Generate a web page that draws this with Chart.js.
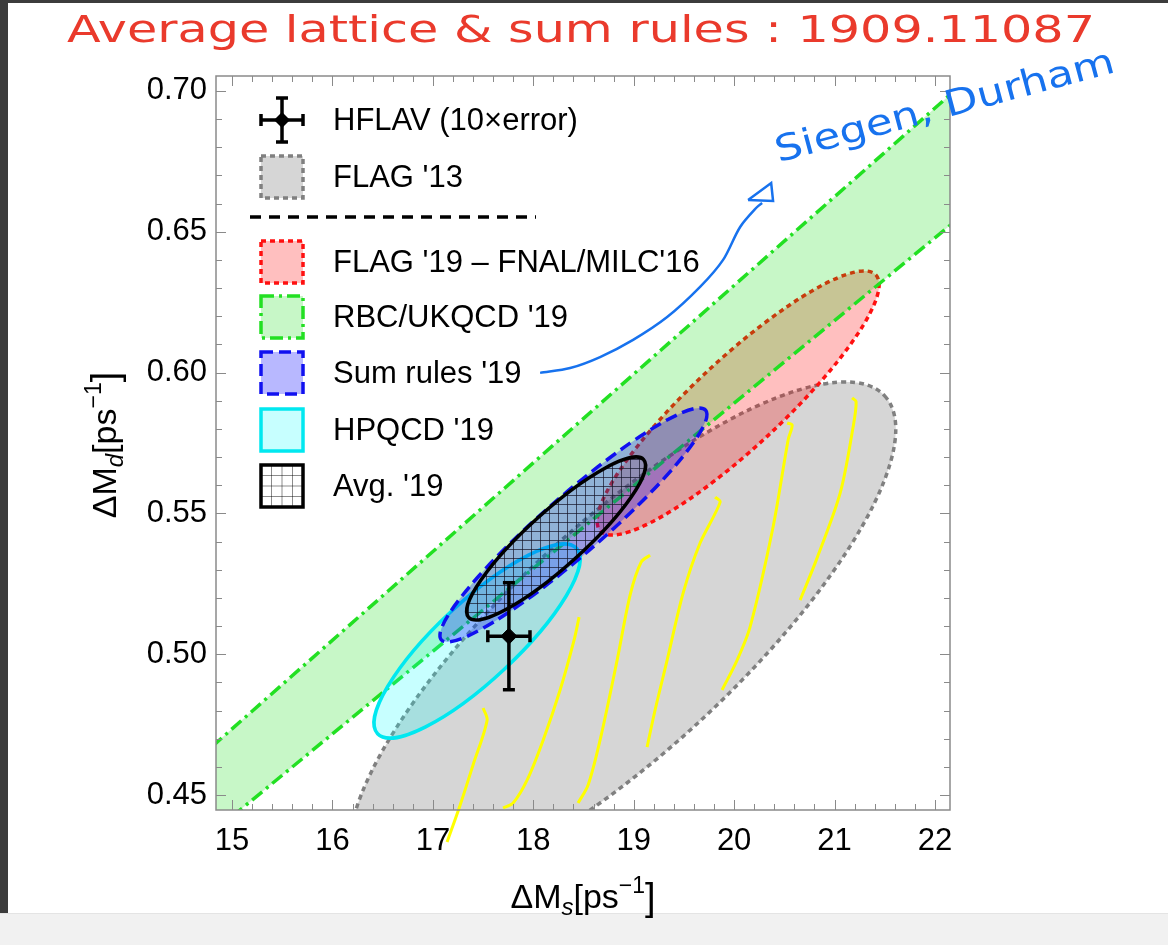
<!DOCTYPE html>
<html>
<head>
<meta charset="utf-8">
<script src="https://cdn.jsdelivr.net/npm/chart.js@4.4.1/dist/chart.umd.min.js"></script>
<style>
  html, body { margin: 0; padding: 0; background: #fff; }
  #wrap { position: relative; width: 1168px; height: 945px; overflow: hidden; }
  .edge-left { position: absolute; left: 0; top: 0; width: 8px; height: 913px; background: #3c3c3c; }
  .edge-top { position: absolute; left: 0; top: 0; width: 1168px; height: 3px; background: #3c3c3c; }
  .edge-bottom { position: absolute; left: 0; top: 913px; width: 1168px; height: 32px; background: #f1f1f1; border-top: 1px solid #e4e4e4; }
  canvas { position: absolute; left: 0; top: 0; }
</style>
</head>
<body>
<div id="wrap">
  <div class="edge-left"></div>
  <div class="edge-top"></div>
  <div class="edge-bottom"></div>
  <canvas id="chart" width="1168" height="945"></canvas>
</div>
<script>
// axes
const xTicks = [15, 16, 17, 18, 19, 20, 21, 22];
const yTicks = [0.45, 0.50, 0.55, 0.60, 0.65, 0.70];
const xMin = 14.84, xMax = 22.15;
const yMin = 0.4447, yMax = 0.7053;

// HFLAV (10x error)
const hflavMs = 17.757, hflavMd = 0.5064;
const hflavMsErr = 0.21, hflavMdErr = 0.019;

// ellipses: FLAG'13, FLAG'19, HPQCD'19, Sum rules'19, Avg'19
const ellipseMs = [18.89, 20.04, 17.44, 18.40, 18.227];
const ellipseMd = [0.5058, 0.5892, 0.5047, 0.5459, 0.5411];
const ellipseMsHalf = [2.72, 1.404, 1.026, 1.33, 0.891];
const ellipseMdHalf = [0.0909, 0.0469, 0.03445, 0.04155, 0.02894];
const ellipseRho = [0.815, 0.895, 0.846, 0.944, 0.895];

// RBC/UKQCD '19 band
const bandMs = [14.8, 22.2];
const bandLow = [0.4365, 0.6537];
const bandHigh = [0.4672, 0.7002];

// hand drawn yellow strokes
const yellowMs = [
  [17.500, 17.540, 17.400, 17.271, 17.141],
  [18.456, 18.406, 18.267, 18.098, 17.938, 17.799, 17.699],
  [19.163, 19.074, 18.964, 18.835, 18.665, 18.546, 18.446],
  [19.811, 19.861, 19.661, 19.492, 19.333, 19.213, 19.133],
  [20.528, 20.578, 20.538, 20.388, 20.159, 20.030, 19.880],
  [21.175, 21.215, 21.185, 21.056, 20.819, 20.657]
];
const yellowMd = [
  [0.4809, 0.4766, 0.4607, 0.4464, 0.4333],
  [0.5132, 0.5050, 0.4873, 0.4695, 0.4553, 0.4472, 0.4454],
  [0.5352, 0.5327, 0.5210, 0.4979, 0.4695, 0.4536, 0.4472],
  [0.5558, 0.5540, 0.5395, 0.5217, 0.4979, 0.4802, 0.4670],
  [0.5821, 0.5814, 0.5761, 0.5452, 0.5097, 0.4979, 0.4873],
  [0.5910, 0.5896, 0.5807, 0.5572, 0.5335, 0.5192]
];

// hand drawn blue arrow
const arrowMs = [18.068, 18.367, 18.665, 18.994, 19.333, 19.661, 19.890, 20.060, 20.229, 20.279];
const arrowMd = [0.5999, 0.6016, 0.6055, 0.6116, 0.6197, 0.6304, 0.6400, 0.6517, 0.6588, 0.6602];
const arrowHeadMs = [20.139, 20.369, 20.388, 20.139];
const arrowHeadMd = [0.6613, 0.6673, 0.6609, 0.6613];

const legendLabels = ["HFLAV (10\u00d7error)", "FLAG '13", "FLAG '19 \u2013 FNAL/MILC'16", "RBC/UKQCD '19", "Sum rules '19", "HPQCD '19", "Avg. '19"];
const headText = 'Average lattice & sum rules : 1909.11087';
const noteText = 'Siegen, Durham';

// styles
const FONT = '"Liberation Sans", Arial, sans-serif';
const ellipseFill = ['rgba(128,128,128,0.32)', 'rgba(255,0,0,0.25)', 'rgba(0,255,255,0.22)', 'rgba(0,0,255,0.28)', 'rgba(0,0,0,0)'];
const ellipseLine = ['#808080', '#ff1010', '#00e8f0', '#1010f0', '#000000'];
const ellipseDash = [[5, 4], [5, 4], [], [12, 6], []];
const greenLine = '#22e022';
const greenFill = 'rgba(0,220,0,0.22)';
const greenDash = [13, 5, 3, 5];

const pts = (ms, md) => ms.map((v, i) => ({x: v, y: md[i]}));

function ellipsePath(chart, ctx, i) {
  const X = v => chart.scales.x.getPixelForValue(v);
  const Y = v => chart.scales.y.getPixelForValue(v);
  const x0 = X(ellipseMs[i]), y0 = Y(ellipseMd[i]);
  const rx = Math.abs(X(ellipseMs[i] + ellipseMsHalf[i]) - x0);
  const ry = Math.abs(Y(ellipseMd[i] + ellipseMdHalf[i]) - y0);
  const sxx = rx * rx, syy = ry * ry, sxy = -ellipseRho[i] * rx * ry;
  const m = (sxx + syy) / 2, d = Math.sqrt(((sxx - syy) / 2) ** 2 + sxy * sxy);
  const a = Math.sqrt(m + d), b = Math.sqrt(Math.max(m - d, 0));
  const ang = 0.5 * Math.atan2(2 * sxy, sxx - syy);
  ctx.beginPath();
  ctx.ellipse(x0, y0, a, b, ang, 0, Math.PI * 2);
  return {x0, y0, a};
}

function drawEllipse(chart, i) {
  const ctx = chart.ctx;
  ctx.save();
  const e = ellipsePath(chart, ctx, i);
  ctx.fillStyle = ellipseFill[i];
  ctx.fill();
  if (i === 4) {
    // grid hatch for the average
    ctx.save();
    ctx.clip();
    ctx.strokeStyle = 'rgba(20,20,40,0.7)';
    ctx.lineWidth = 1;
    ctx.beginPath();
    for (let g = Math.floor((e.x0 - e.a) / 9) * 9; g < e.x0 + e.a; g += 9) {
      ctx.moveTo(g + 0.5, e.y0 - e.a); ctx.lineTo(g + 0.5, e.y0 + e.a);
    }
    for (let g = Math.floor((e.y0 - e.a) / 9) * 9; g < e.y0 + e.a; g += 9) {
      ctx.moveTo(e.x0 - e.a, g + 0.5); ctx.lineTo(e.x0 + e.a, g + 0.5);
    }
    ctx.stroke();
    ctx.restore();
    ellipsePath(chart, ctx, i);
  }
  ctx.setLineDash(ellipseDash[i]);
  ctx.strokeStyle = ellipseLine[i];
  ctx.lineWidth = 3.5;
  ctx.stroke();
  ctx.restore();
}

function clipArea(chart, fn) {
  const {left, top, width, height} = chart.chartArea;
  chart.ctx.save();
  chart.ctx.beginPath();
  chart.ctx.rect(left, top, width, height);
  chart.ctx.clip();
  fn();
  chart.ctx.restore();
}

function drawFrame(chart) {
  const ctx = chart.ctx;
  const {left, right, top, bottom} = chart.chartArea;
  const xs = chart.scales.x, ys = chart.scales.y;
  ctx.save();
  ctx.strokeStyle = '#8a8a8a';
  ctx.lineWidth = 1.5;
  ctx.strokeRect(left, top, right - left, bottom - top);
  ctx.lineWidth = 1;
  ctx.beginPath();
  for (let k = 70; k <= 115; k++) {
    const v = k / 5;
    if (v < xMin || v > xMax) continue;
    const p = Math.round(xs.getPixelForValue(v)) + 0.5;
    const len = k % 5 === 0 ? 10 : 6;
    ctx.moveTo(p, bottom); ctx.lineTo(p, bottom - len);
    ctx.moveTo(p, top); ctx.lineTo(p, top + len);
  }
  for (let k = 44; k <= 71; k++) {
    const v = k / 100;
    if (v < yMin || v > yMax) continue;
    const p = Math.round(ys.getPixelForValue(v)) + 0.5;
    const len = k % 5 === 0 ? 10 : 6;
    ctx.moveTo(left, p); ctx.lineTo(left + len, p);
    ctx.moveTo(right, p); ctx.lineTo(right - len, p);
  }
  ctx.stroke();
  ctx.restore();
}

function drawRich(ctx, parts, x, y, rot) {
  ctx.save();
  ctx.translate(x, y);
  ctx.rotate(rot);
  ctx.fillStyle = '#000';
  ctx.textBaseline = 'alphabetic';
  let w = 0;
  parts.forEach(p => { ctx.font = p[2] + ' ' + p[1] + 'px ' + FONT; w += ctx.measureText(p[0]).width; });
  let cx = -w / 2;
  parts.forEach(p => {
    ctx.font = p[2] + ' ' + p[1] + 'px ' + FONT;
    ctx.fillText(p[0], cx, p[3]);
    cx += ctx.measureText(p[0]).width;
  });
  ctx.restore();
}

function drawLegend(chart) {
  const ctx = chart.ctx;
  const {left, top} = chart.chartArea;
  const sx = left + 66, tx = left + 117;
  const rows = [44, 101, 186, 241, 297, 354, 410].map(r => top + r);
  ctx.save();
  // HFLAV symbol
  ctx.strokeStyle = '#000';
  ctx.fillStyle = '#000';
  ctx.lineWidth = 3.5;
  ctx.beginPath();
  ctx.moveTo(sx - 21, rows[0]); ctx.lineTo(sx + 21, rows[0]);
  ctx.moveTo(sx, rows[0] - 22); ctx.lineTo(sx, rows[0] + 22);
  ctx.moveTo(sx - 21, rows[0] - 6); ctx.lineTo(sx - 21, rows[0] + 6);
  ctx.moveTo(sx + 21, rows[0] - 6); ctx.lineTo(sx + 21, rows[0] + 6);
  ctx.moveTo(sx - 6, rows[0] - 22); ctx.lineTo(sx + 6, rows[0] - 22);
  ctx.moveTo(sx - 6, rows[0] + 22); ctx.lineTo(sx + 6, rows[0] + 22);
  ctx.stroke();
  ctx.beginPath();
  ctx.moveTo(sx, rows[0] - 8); ctx.lineTo(sx + 8, rows[0]); ctx.lineTo(sx, rows[0] + 8); ctx.lineTo(sx - 8, rows[0]);
  ctx.closePath();
  ctx.fill();

  // swatches
  const sw = [
    [1, ellipseFill[0], ellipseLine[0], ellipseDash[0]],
    [2, ellipseFill[1], ellipseLine[1], ellipseDash[1]],
    [3, greenFill, greenLine, greenDash],
    [4, ellipseFill[3], ellipseLine[3], ellipseDash[3]],
    [5, ellipseFill[2], ellipseLine[2], ellipseDash[2]],
    [6, 'rgba(0,0,0,0)', '#000', []]
  ];
  sw.forEach(s => {
    const cy = rows[s[0]];
    ctx.fillStyle = s[1];
    ctx.fillRect(sx - 21, cy - 21, 42, 42);
    if (s[0] === 6) {
      ctx.strokeStyle = 'rgba(0,0,0,0.45)';
      ctx.lineWidth = 1;
      ctx.setLineDash([]);
      ctx.beginPath();
      for (let k = 1; k < 4; k++) {
        ctx.moveTo(sx - 21 + k * 10.5, cy - 21); ctx.lineTo(sx - 21 + k * 10.5, cy + 21);
        ctx.moveTo(sx - 21, cy - 21 + k * 10.5); ctx.lineTo(sx + 21, cy - 21 + k * 10.5);
      }
      ctx.stroke();
    }
    ctx.strokeStyle = s[2];
    ctx.lineWidth = 3.5;
    ctx.setLineDash(s[3]);
    ctx.strokeRect(sx - 21, cy - 21, 42, 42);
  });

  // separator
  ctx.setLineDash([11, 8]);
  ctx.strokeStyle = '#000';
  ctx.lineWidth = 3.5;
  ctx.beginPath();
  ctx.moveTo(left + 34, top + 141); ctx.lineTo(left + 320, top + 141);
  ctx.stroke();
  ctx.setLineDash([]);

  ctx.fillStyle = '#000';
  ctx.font = '31px ' + FONT;
  ctx.textBaseline = 'middle';
  legendLabels.forEach((t, i) => ctx.fillText(t, tx, rows[i] + 1));
  ctx.restore();
}

function drawNotes(chart) {
  const ctx = chart.ctx;
  ctx.save();
  ctx.fillStyle = '#ea3a2c';
  ctx.font = '38px "DejaVu Sans", sans-serif';
  ctx.textBaseline = 'middle';
  let w = ctx.measureText(headText).width;
  ctx.translate(67, 32);
  ctx.scale(1028 / w, 1);
  ctx.fillText(headText, 0, 0);
  ctx.restore();

  ctx.save();
  ctx.fillStyle = '#1772ee';
  ctx.font = '36px "DejaVu Sans", sans-serif';
  ctx.textBaseline = 'middle';
  w = ctx.measureText(noteText).width;
  ctx.translate(945, 108);
  ctx.rotate(-15 * Math.PI / 180);
  ctx.scale(350 / w, 1);
  ctx.fillText(noteText, -w / 2, 0);
  ctx.restore();
}

const extras = {
  id: 'extras',
  beforeDatasetsDraw(chart) {
    clipArea(chart, () => { drawEllipse(chart, 0); drawEllipse(chart, 1); });
  },
  afterDatasetDraw(chart, args) {
    if (chart.data.datasets[args.index].label !== 'bandLow') return;
    clipArea(chart, () => { drawEllipse(chart, 2); drawEllipse(chart, 3); drawEllipse(chart, 4); });
  },
  afterDraw(chart) {
    const {left, right, top, bottom} = chart.chartArea;
    drawFrame(chart);
    drawLegend(chart);
    drawRich(chart.ctx, [['\u0394M', 34, '', 0], ['s', 24, 'italic', 7], ['[ps', 34, '', 0], ['\u22121', 23, '', -15], [']', 38, '', 2]], (left + right) / 2, bottom + 98, 0);
    drawRich(chart.ctx, [['\u0394M', 34, '', 0], ['d', 24, 'italic', 7], ['[ps', 34, '', 0], ['\u22121', 23, '', -15], [']', 38, '', 2]], left - 100, (top + bottom) / 2 + 2, -Math.PI / 2);
    drawNotes(chart);
  }
};

const yellowSets = yellowMs.map((ms, i) => ({
  label: 'yellow' + i, data: pts(ms, yellowMd[i]), showLine: true,
  borderColor: '#ffff00', borderWidth: 3, pointRadius: 0, tension: 0.3,
  capBezierPoints: false, clip: false, order: 1
}));

new Chart(document.getElementById('chart'), {
  type: 'scatter',
  data: {
    datasets: [
      {
        label: 'hflavBarX',
        data: [{x: hflavMs - hflavMsErr, y: hflavMd}, {x: hflavMs + hflavMsErr, y: hflavMd}],
        showLine: true, borderColor: '#000', borderWidth: 3.5,
        pointStyle: 'line', pointRotation: 90, pointRadius: 6, pointBorderWidth: 3.5, order: 0
      },
      {
        label: 'hflavBarY',
        data: [{x: hflavMs, y: hflavMd - hflavMdErr}, {x: hflavMs, y: hflavMd + hflavMdErr}],
        showLine: true, borderColor: '#000', borderWidth: 3.5,
        pointStyle: 'line', pointRotation: 0, pointRadius: 6, pointBorderWidth: 3.5, order: 0
      },
      {
        label: 'hflav',
        data: [{x: hflavMs, y: hflavMd}],
        pointStyle: 'rectRot', pointRadius: 8, backgroundColor: '#000', borderColor: '#000', order: 0
      },
      ...yellowSets,
      {
        label: 'arrow', data: pts(arrowMs, arrowMd), showLine: true,
        borderColor: '#1772ee', borderWidth: 2.5, pointRadius: 0, tension: 0.3,
        capBezierPoints: false, clip: false, order: 1
      },
      {
        label: 'arrowHead', data: pts(arrowHeadMs, arrowHeadMd), showLine: true,
        borderColor: '#1772ee', borderWidth: 2.5, pointRadius: 0, clip: false, order: 1
      },
      {
        label: 'bandLow', data: pts(bandMs, bandLow), showLine: true,
        borderColor: greenLine, borderWidth: 3.5, borderDash: greenDash, pointRadius: 0, order: 5
      },
      {
        label: 'bandHigh', data: pts(bandMs, bandHigh), showLine: true,
        borderColor: greenLine, borderWidth: 3.5, borderDash: greenDash, pointRadius: 0,
        fill: '-1', backgroundColor: greenFill, order: 6
      }
    ]
  },
  options: {
    responsive: false,
    animation: false,
    devicePixelRatio: 1,
    layout: { padding: { left: 0, top: 76, right: 218, bottom: 75 } },
    plugins: { legend: { display: false }, tooltip: { enabled: false } },
    scales: {
      x: {
        type: 'linear', min: xMin, max: xMax,
        grid: { display: false }, border: { display: false },
        ticks: { font: { family: FONT, size: 31 }, color: '#000', padding: 5 },
        afterBuildTicks: axis => { axis.ticks = xTicks.map(v => ({value: v})); },
        afterFit: axis => { axis.height = 60; }
      },
      y: {
        type: 'linear', min: yMin, max: yMax,
        grid: { display: false }, border: { display: false },
        ticks: { font: { family: FONT, size: 31 }, color: '#000', padding: 1, callback: v => v.toFixed(2) },
        afterBuildTicks: axis => { axis.ticks = yTicks.map(v => ({value: v})); },
        afterFit: axis => { axis.width = 216; }
      }
    }
  },
  plugins: [extras]
});
</script>
</body>
</html>
